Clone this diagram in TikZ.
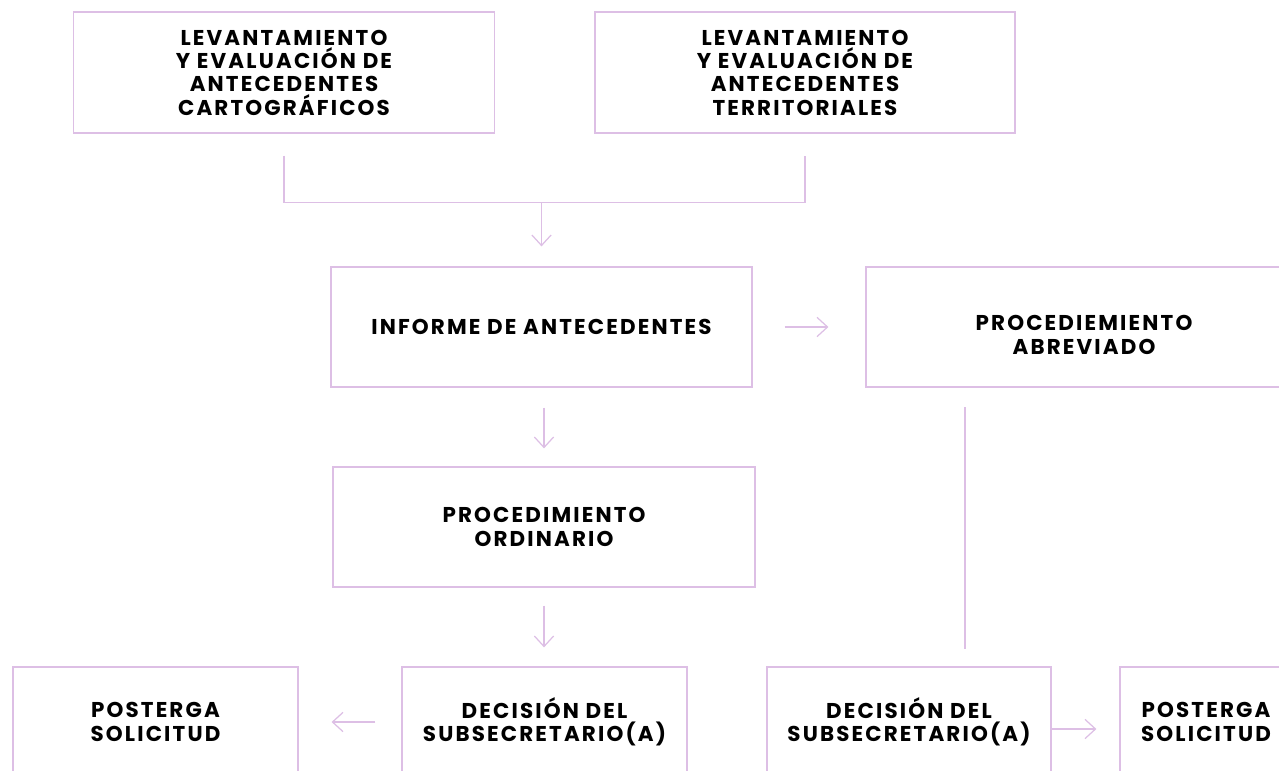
\documentclass[tikz,border=0pt]{standalone}
\usepackage{fontspec}
\setmainfont{Poppins}[LetterSpace=10]
\usetikzlibrary{arrows.meta, calc}
\definecolor{lila}{RGB}{221,191,229}

\begin{document}
\begin{tikzpicture}[x=0.02cm, y=-0.02cm,
    box/.style={draw=lila, line width=0.7pt, minimum height=2.42cm, inner sep=0pt,
        align=center, font=\bfseries\fontsize{12.2}{13.3}\selectfont},
    link/.style={draw=lila, line width=0.7pt},
    arrow/.style={link, -{Straight Barb[length=6pt, width=11pt]}}]
    \useasboundingbox (0,0) rectangle (1279,771);
    \clip (0,0) rectangle (1279,771);

    \node[box, minimum width=8.42cm] (carto) at (284,72.5)
        {LEVANTAMIENTO\\Y EVALUACIÓN DE\\ANTECEDENTES\\CARTOGRÁFICOS};
    \node[box, minimum width=8.4cm] (terri) at (805,72.5)
        {LEVANTAMIENTO\\Y EVALUACIÓN DE\\ANTECEDENTES\\TERRITORIALES};
    \node[box, minimum width=8.42cm, minimum height=2.4cm] (informe) at (541.5,327)
        {INFORME DE ANTECEDENTES};
    \node[box, minimum width=8.72cm, minimum height=2.4cm] (abrev) at (1084,327)
        {\rule{0pt}{0.62cm}PROCEDIEMIENTO\\ABREVIADO};
    \node[box, minimum width=8.44cm, minimum height=2.4cm] (ordin) at (544,527)
        {PROCEDIMIENTO\\ORDINARIO};
    \node[box, minimum width=5.7cm, minimum height=2.2cm] (decL) at (544.5,722)
        {DECISIÓN DEL\\SUBSECRETARIO(A)};
    \node[box, minimum width=5.7cm, minimum height=2.2cm] (postL) at (155.5,722)
        {POSTERGA\\SOLICITUD};
    \node[box, minimum width=5.68cm, minimum height=2.2cm] (decR) at (909,722)
        {DECISIÓN DEL\\SUBSECRETARIO(A)};
    \node[box, minimum width=3.44cm, minimum height=2.2cm] (postR) at (1206,722)
        {POSTERGA\\SOLICITUD};

    \draw[link, shorten <=0.44cm, shorten >=0.44cm]
        (carto.south) -- ++(0,69) coordinate (joinL) -| (terri.south);
    \draw[arrow, shorten >=0.4cm]
        (informe.north |- joinL) -- (informe.north);
    \draw[arrow, shorten <=0.4cm, shorten >=0.36cm]
        (ordin.north |- informe.south) -- (ordin.north);
    \draw[arrow, shorten <=0.36cm, shorten >=0.38cm]
        (ordin.south) -- (ordin.south |- decL.north);
    \draw[arrow, shorten <=0.64cm, shorten >=0.74cm]
        (informe.east) -- (informe.east -| abrev.west);
    \coordinate (drop) at (965,407);
    \draw[link, shorten >=0.34cm]
        (drop) -- (drop |- decR.north);
    \draw[arrow, shorten <=0.52cm, shorten >=0.66cm]
        (decL.west) -- (decL.west -| postL.east);
    \draw[arrow, shorten >=0.46cm]
        ($(decR.east)+(0,7)$) -- ($(decR.east -| postR.west)+(0,7)$);
\end{tikzpicture}
\end{document}
